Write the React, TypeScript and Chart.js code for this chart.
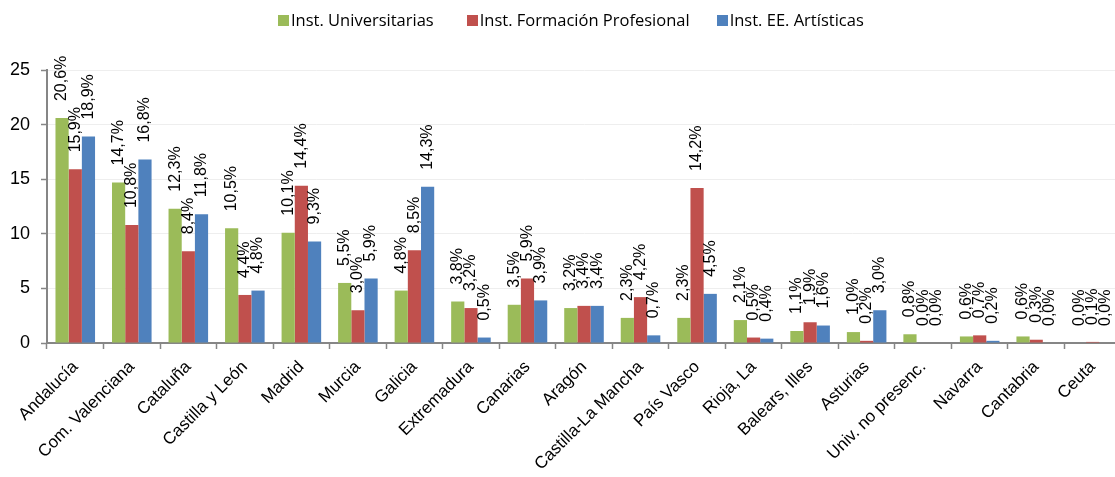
import React, { useEffect, useRef } from "react";
import { Chart, registerables } from "chart.js";

Chart.register(...registerables);

const categories = [
  "Andalucía", "Com. Valenciana", "Cataluña", "Castilla y León", "Madrid", "Murcia",
  "Galicia", "Extremadura", "Canarias", "Aragón", "Castilla-La Mancha", "País Vasco",
  "Rioja, La", "Balears, Illes", "Asturias", "Univ. no presenc.", "Navarra", "Cantabria", "Ceuta",
];
const universitarias = [20.6, 14.7, 12.3, 10.5, 10.1, 5.5, 4.8, 3.8, 3.5, 3.2, 2.3, 2.3, 2.1, 1.1, 1.0, 0.8, 0.6, 0.6, 0.0];
const formacionProfesional = [15.9, 10.8, 8.4, 4.4, 14.4, 3.0, 8.5, 3.2, 5.9, 3.4, 4.2, 14.2, 0.5, 1.9, 0.2, 0.0, 0.7, 0.3, 0.1];
const artisticas = [18.9, 16.8, 11.8, 4.8, 9.3, 5.9, 14.3, 0.5, 3.9, 3.4, 0.7, 4.5, 0.4, 1.6, 3.0, 0.0, 0.2, 0.0, 0.0];
const seriesNames = ["Inst. Universitarias", "Inst. Formación Profesional", "Inst. EE. Artísticas"];
const seriesColors = ["#9BBB59", "#C0504D", "#4F81BD"];
const yTicks = [0, 5, 10, 15, 20, 25];

const fmt = (v: number) => v.toFixed(1).replace(".", ",") + "%";

const labelPlugin = {
  id: "barLabels",
  afterDatasetsDraw(chart: any) {
    const ctx = chart.ctx;
    ctx.save();
    ctx.font = "16px 'Liberation Sans', Arial, sans-serif";
    ctx.fillStyle = "#000";
    ctx.textAlign = "left";
    ctx.textBaseline = "middle";
    chart.data.datasets.forEach((ds: any, di: number) => {
      const meta = chart.getDatasetMeta(di);
      meta.data.forEach((el: any, i: number) => {
        const v = ds.data[i] as number;
        ctx.save();
        ctx.translate(el.x, el.y - 17);
        ctx.rotate(-Math.PI / 2);
        ctx.fillText(fmt(v), 0, 0);
        ctx.restore();
      });
    });
    ctx.restore();
  },
};

export default function App() {
  const ref = useRef<HTMLCanvasElement | null>(null);
  useEffect(() => {
    document.body.style.margin = "0";
    if (!ref.current) return;
    const chart = new Chart(ref.current, {
      type: "bar",
      data: {
        labels: categories,
        datasets: [
          { label: seriesNames[0], data: universitarias, backgroundColor: seriesColors[0] },
          { label: seriesNames[1], data: formacionProfesional, backgroundColor: seriesColors[1] },
          { label: seriesNames[2], data: artisticas, backgroundColor: seriesColors[2] },
        ],
      },
      options: {
        responsive: false,
        animation: false,
        layout: { padding: { top: 70, right: 0, left: 0, bottom: 0 } },
        datasets: { bar: { categoryPercentage: 0.7, barPercentage: 1.0 } },
        plugins: {
          legend: { display: false },
          tooltip: { enabled: false },
        },
        scales: {
          x: {
            grid: {
              offset: true,
              drawOnChartArea: false,
              drawTicks: true,
              tickLength: 6,
              tickColor: "#868686",
              tickWidth: 1.5,
            },
            border: { color: "#868686", width: 2 },
            ticks: {
              minRotation: 45,
              maxRotation: 45,
              autoSkip: false,
              color: "#000",
              padding: 8,
              font: { family: "'Liberation Sans', Arial, sans-serif", size: 17 },
            },
            afterFit: (s: any) => { s.height = 134; },
          },
          y: {
            min: 0,
            max: 25,
            afterBuildTicks: (s: any) => { s.ticks = yTicks.map((v) => ({ value: v })); },
            grid: {
              color: "#eeeeee",
              tickColor: "#868686",
              tickLength: 6,
              tickWidth: 1.5,
            },
            border: { color: "#868686", width: 2 },
            ticks: {
              color: "#000",
              padding: 11,
              font: { family: "'Liberation Sans', Arial, sans-serif", size: 18 },
            },
            afterFit: (s: any) => { s.width = 47; },
          },
        },
      },
      plugins: [labelPlugin],
    });
    return () => chart.destroy();
  }, []);
  return (
    <div style={{ position: "relative", width: 1115, height: 477, overflow: "hidden" }}>
      <canvas ref={ref} width={1121} height={477} style={{ display: "block" }} />
      <div
        style={{
          position: "absolute",
          left: 278,
          top: 9,
          display: "flex",
          alignItems: "center",
          fontFamily: "'Open Sans', sans-serif",
          fontSize: 16.5,
          lineHeight: "22px",
          color: "#000",
          whiteSpace: "nowrap",
        }}
      >
        {seriesNames.map((name, i) => (
          <div key={name} style={{ display: "flex", alignItems: "center", marginLeft: i === 0 ? 0 : i === 1 ? 33 : 27 }}>
            <span style={{ display: "inline-block", width: 11, height: 11, background: seriesColors[i], marginRight: 2 }} />
            <span>{name}</span>
          </div>
        ))}
      </div>
    </div>
  );
}
